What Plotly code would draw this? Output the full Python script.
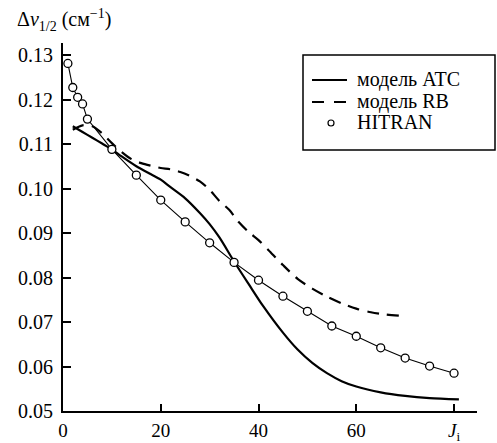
import plotly.graph_objects as go

# HITRAN data points
hitran_j = [1, 2, 3, 4, 5, 10, 15, 20, 25, 30, 35, 40, 45, 50, 55, 60, 65, 70, 75, 80]
hitran_w = [0.1281, 0.1227, 0.1205, 0.1190, 0.1156, 0.1088, 0.1030, 0.0974, 0.0925, 0.0878,
            0.0834, 0.0794, 0.0758, 0.0724, 0.0691, 0.0668, 0.0642, 0.0619, 0.0601, 0.0585]

# ATC model curve
atc_j = [2, 4, 6, 8, 10, 12, 15, 18, 20, 22, 25, 28, 30, 32, 35, 38, 41, 45, 48, 51, 54, 57, 60, 65, 70, 75, 81]
atc_w = [0.1140, 0.1127, 0.1114, 0.1101, 0.1088, 0.1072, 0.1050, 0.1032, 0.1020, 0.1003, 0.0978,
         0.0945, 0.0920, 0.0890, 0.0836, 0.0785, 0.0735, 0.0676, 0.0638, 0.0608, 0.0585, 0.0567,
         0.0555, 0.0542, 0.0534, 0.0529, 0.0526]

# RB model curve
rb_j = [2, 4, 6, 8, 10, 12, 14, 16, 18, 20, 22, 24, 26, 28, 30, 32, 34, 36, 38, 40, 42, 45, 48,
        51, 54, 57, 60, 63, 66, 70]
rb_w = [0.1132, 0.1142, 0.1140, 0.1124, 0.1102, 0.1082, 0.1066, 0.1057, 0.1051, 0.1046, 0.1043,
        0.1037, 0.1028, 0.1016, 0.0997, 0.0972, 0.0952, 0.0924, 0.0902, 0.0884, 0.0862, 0.0828,
        0.0797, 0.0775, 0.0757, 0.0742, 0.0730, 0.0722, 0.0717, 0.0713]

series_names = ["модель ATC", "модель RB", "HITRAN"]

x_tickvals = [0, 20, 40, 60, 80]
x_ticktext = ["0", "20", "40", "60", "<i>J</i><sub>i</sub>"]
y_tickvals = [0.05, 0.06, 0.07, 0.08, 0.09, 0.10, 0.11, 0.12, 0.13]
y_ticktext = ["0.05", "0.06", "0.07", "0.08", "0.09", "0.10", "0.11", "0.12", "0.13"]

FONT = "Liberation Serif, Times New Roman, serif"

# plot-area geometry in pixels (for legend placement)
W, H = 497, 443
ML, MR, MT, MB = 63, 20, 43, 32
PW, PH = W - ML - MR, H - MT - MB


def px(x):
    return (x - ML) / PW


def py(y):
    return (H - MB - y) / PH


fig = go.Figure()
fig.add_trace(go.Scatter(x=atc_j, y=atc_w, mode="lines", name=series_names[0], showlegend=False,
                         line=dict(color="black", width=2.2, shape="spline", smoothing=0.8)))
fig.add_trace(go.Scatter(x=rb_j, y=rb_w, mode="lines", name=series_names[1], showlegend=False,
                         line=dict(color="black", width=2.2, dash="12px,8px", shape="spline", smoothing=0.8)))
fig.add_trace(go.Scatter(x=hitran_j, y=hitran_w, mode="lines", showlegend=False,
                         line=dict(color="black", width=1.1)))
fig.add_trace(go.Scatter(x=hitran_j, y=hitran_w, mode="markers", name=series_names[2], showlegend=False,
                         marker=dict(symbol="circle", size=8, color="white",
                                     line=dict(color="black", width=1.3))))

# manual legend (box, samples, labels)
shapes = [
    dict(type="rect", xref="paper", yref="paper", x0=px(303), x1=px(495), y0=py(150), y1=py(55),
         line=dict(color="black", width=1.5), fillcolor="rgba(0,0,0,0)"),
    dict(type="line", xref="paper", yref="paper", x0=px(312), x1=px(347), y0=py(80), y1=py(80),
         line=dict(color="black", width=2.2)),
    dict(type="line", xref="paper", yref="paper", x0=px(312), x1=px(347), y0=py(102), y1=py(102),
         line=dict(color="black", width=2.2, dash="12px,10px")),
    dict(type="circle", xref="paper", yref="paper", xsizemode="pixel", ysizemode="pixel",
         xanchor=px(331), yanchor=py(123), x0=-3, x1=3, y0=-3, y1=3,
         line=dict(color="black", width=1.2), fillcolor="white"),
]
annotations = [
    dict(text="Δ<i>v</i><sub>1/2</sub> (см<sup>−1</sup>)", xref="paper", yref="paper",
         x=px(15), y=py(20), xanchor="left", yanchor="middle", showarrow=False,
         font=dict(family=FONT, size=20)),
]
for name, ty in zip(series_names, [79, 101, 122]):
    annotations.append(dict(text=name, xref="paper", yref="paper", x=px(355), y=py(ty),
                            xanchor="left", yanchor="middle", showarrow=False,
                            font=dict(family=FONT, size=20)))

fig.update_layout(
    width=W, height=H,
    margin=dict(l=ML, r=MR, t=MT, b=MB),
    paper_bgcolor="white", plot_bgcolor="white",
    font=dict(family=FONT, size=20, color="black"),
    showlegend=False,
    shapes=shapes,
    annotations=annotations,
)
fig.update_xaxes(range=[0, 84.7], tickvals=x_tickvals, ticktext=x_ticktext, automargin=False,
                 ticks="inside", ticklen=7, tickwidth=1.5, tickcolor="black", ticklabelstandoff=1,
                 showline=True, linecolor="black", linewidth=1.8, showgrid=False, zeroline=False,
                 tickfont=dict(family=FONT, size=19))
fig.update_yaxes(range=[0.05, 0.1327], tickvals=y_tickvals, ticktext=y_ticktext, automargin=False,
                 ticks="inside", ticklen=8, tickwidth=1.5, tickcolor="black", ticklabelstandoff=4,
                 showline=True, linecolor="black", linewidth=1.8, showgrid=False, zeroline=False,
                 tickfont=dict(family=FONT, size=20))

fig.write_html("out.html")
